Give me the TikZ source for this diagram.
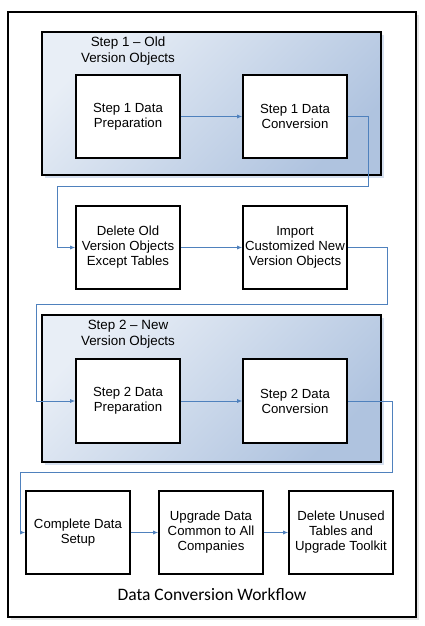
\documentclass[tikz,border=0pt]{standalone}
\usepackage{fontspec}
\setmainfont{Liberation Sans}
\newfontfamily\titlefont{Carlito}
\usetikzlibrary{arrows.meta}
\definecolor{grpLight}{HTML}{E8EEF6}
\definecolor{grpDark}{HTML}{AFC3DF}
\definecolor{grpShadow}{HTML}{D6E0EF}
\definecolor{flowBlue}{HTML}{4F81BD}
\begin{document}
\begin{tikzpicture}[x=1pt,y=-1pt,
    stepbox/.style={draw=black, line width=1.6pt, fill=white, minimum width=104pt, minimum height=83pt, align=center, inner sep=1pt, font=\fontsize{13.2}{15}\selectfont},
    grp/.style={draw=black, line width=1.6pt, top color=grpLight, bottom color=grpDark, shading angle=45},
    grplabel/.style={align=center, font=\fontsize{13.4}{16}\selectfont},
    flow/.style={draw=flowBlue, line width=0.8pt, -{Latex[length=5pt,width=4pt]}}]
\useasboundingbox (0,0) rectangle (425,626);

% outer frame
\fill[gray!20] (11,15) rectangle (419,620);
\draw[line width=2.4pt, fill=white] (8,12) rectangle (416,617);

% step 1 group
\fill[grpShadow] (45,35) rectangle (384,178);
\shade[grp] (42,32) rectangle (381,175);
\draw[line width=1.6pt] (42,32) rectangle (381,175);
\node[grplabel] (grpAlabel) at (128,51.5) {Step 1 -- Old\\Version Objects};

% step 2 group
\fill[grpShadow] (45,318) rectangle (384,465);
\shade[grp] (42,315) rectangle (381,462);
\draw[line width=1.6pt] (42,315) rectangle (381,462);
\node[grplabel] (grpBlabel) at (128,334) {Step 2 -- New\\Version Objects};

\node[stepbox] (prepA) at (128,116.5) {Step 1 Data\\Preparation};
\node[stepbox] (convA) at (295,116.5) {Step 1 Data\\Conversion};
\node[stepbox] (delOld) at (128,247.5) {Delete Old\\Version Objects\\Except Tables};
\node[stepbox] (impNew) at (295,247.5) {Import\\Customized New\\Version Objects};
\node[stepbox, minimum height=84pt] (prepB) at (128,401) {Step 2 Data\\Preparation};
\node[stepbox, minimum height=84pt] (convB) at (295,401) {Step 2 Data\\Conversion};
\node[stepbox] (setup) at (78,532.5) {Complete Data\\Setup};
\node[stepbox] (common) at (211,532.5) {Upgrade Data\\Common to All\\Companies};
\node[stepbox] (cleanup) at (341,532.5) {Delete Unused\\Tables and\\Upgrade Toolkit};

\node[font=\titlefont\fontsize{17.5}{20}\selectfont] (title) at (212,594) {Data Conversion Workflow};

% connectors
\draw[flow] (prepA) -- (convA);
\draw[flow] (convA.east) -| (368,186) -| (57,247.5) -- (delOld.west);
\draw[flow] (delOld) -- (impNew);
\draw[flow] (impNew.east) -| (387,304) -| (36,401) -- (prepB.west);
\draw[flow] (prepB) -- (convB);
\draw[flow] (convB.east) -| (392,472) -| (20,532.5) -- (setup.west);
\draw[flow] (setup) -- (common);
\draw[flow] (common) -- (cleanup);
\end{tikzpicture}
\end{document}
